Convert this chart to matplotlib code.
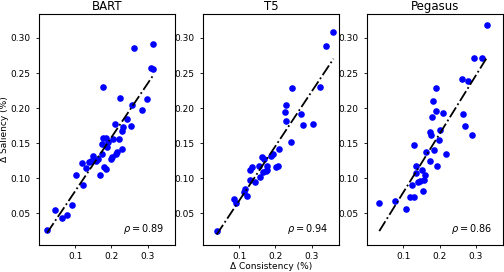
import matplotlib
matplotlib.use('Agg')
import matplotlib.pyplot as plt
import numpy as np

# ======================
# DATA
# ======================

models = ['BART', 'T5', 'Pegasus']
rho_labels = ['0.89', '0.94', '0.86']

bart_x = [0.023, 0.046, 0.063, 0.079, 0.091, 0.103, 0.119, 0.122, 0.129, 0.137,
          0.149, 0.144, 0.158, 0.164, 0.168, 0.173, 0.177, 0.175, 0.178, 0.184,
          0.179, 0.186, 0.188, 0.192, 0.198, 0.203, 0.204, 0.211, 0.214, 0.216,
          0.223, 0.221, 0.228, 0.230, 0.231, 0.243, 0.254, 0.257, 0.263, 0.284,
          0.299, 0.308, 0.316, 0.316]
bart_y = [0.026, 0.055, 0.043, 0.047, 0.062, 0.105, 0.121, 0.091, 0.114, 0.123,
          0.131, 0.125, 0.124, 0.128, 0.105, 0.134, 0.230, 0.149, 0.157, 0.158,
          0.116, 0.113, 0.144, 0.151, 0.128, 0.130, 0.156, 0.178, 0.134, 0.138,
          0.215, 0.156, 0.168, 0.142, 0.173, 0.185, 0.175, 0.204, 0.286, 0.197,
          0.213, 0.257, 0.256, 0.292]

t5_x = [0.038, 0.086, 0.092, 0.112, 0.116, 0.121, 0.130, 0.131, 0.135, 0.145,
        0.155, 0.157, 0.162, 0.165, 0.168, 0.173, 0.177, 0.178, 0.187, 0.192,
        0.202, 0.207, 0.210, 0.226, 0.229, 0.230, 0.244, 0.246, 0.270, 0.276,
        0.304, 0.324, 0.339, 0.360]
t5_y = [0.024, 0.071, 0.064, 0.080, 0.084, 0.075, 0.098, 0.112, 0.116, 0.094,
        0.118, 0.101, 0.130, 0.109, 0.127, 0.110, 0.117, 0.111, 0.131, 0.134,
        0.116, 0.117, 0.141, 0.195, 0.181, 0.205, 0.152, 0.228, 0.191, 0.176,
        0.178, 0.230, 0.288, 0.309]

pegasus_x = [0.034, 0.078, 0.109, 0.118, 0.131, 0.123, 0.129, 0.135, 0.135, 0.140,
             0.145, 0.151, 0.155, 0.156, 0.159, 0.163, 0.173, 0.175, 0.176, 0.178,
             0.183, 0.186, 0.191, 0.191, 0.193, 0.199, 0.200, 0.210, 0.218, 0.263,
             0.265, 0.271, 0.278, 0.290, 0.296, 0.318, 0.332]
pegasus_y = [0.064, 0.067, 0.056, 0.073, 0.073, 0.091, 0.147, 0.118, 0.107, 0.095,
             0.096, 0.111, 0.082, 0.098, 0.104, 0.137, 0.124, 0.166, 0.162, 0.188,
             0.210, 0.140, 0.229, 0.196, 0.117, 0.155, 0.169, 0.193, 0.135, 0.242,
             0.191, 0.174, 0.239, 0.161, 0.272, 0.271, 0.318]

x_data = [bart_x, t5_x, pegasus_x]
y_data = [bart_y, t5_y, pegasus_y]

# ======================
# PLOT
# ======================

plt.rcParams.update({'font.size': 7})

fig, axes = plt.subplots(1, 3, figsize=(5.04, 2.72), dpi=100)
fig.subplots_adjust(left=0.077, right=0.998, top=0.948, bottom=0.1, wspace=0.206)

for ax, name, rho, xs, ys in zip(axes, models, rho_labels, x_data, y_data):
    xs = np.array(xs)
    ys = np.array(ys)
    ax.scatter(xs, ys, s=14, color='blue', zorder=2)

    # linear fit
    k, b = np.polyfit(xs, ys, 1)
    line_x = np.array([xs.min(), xs.max()])
    ax.plot(line_x, k * line_x + b, color='black', linestyle='-.', linewidth=1.3, zorder=3)

    ax.set_title(name, fontsize=8.5, pad=3)
    ax.text(0.92, 0.04, r'$\rho = $' + rho, transform=ax.transAxes,
            ha='right', va='bottom', fontsize=7)
    ax.set_xlim(0.0, 0.375)
    ax.set_ylim(0.005, 0.334)
    ax.set_xticks([0.1, 0.2, 0.3])
    ax.set_yticks([0.05, 0.10, 0.15, 0.20, 0.25, 0.30])
    ax.tick_params(labelsize=6.5, length=2.5, width=0.6)
    ax.tick_params(axis='x', pad=2.5)
    for sp in ax.spines.values():
        sp.set_linewidth(0.8)

axes[0].set_ylabel('Δ Saliency (%)', fontsize=6.5, labelpad=1)
axes[1].set_xlabel('Δ Consistency (%)', fontsize=6.5, labelpad=1)

plt.savefig('out.png', dpi=100)
